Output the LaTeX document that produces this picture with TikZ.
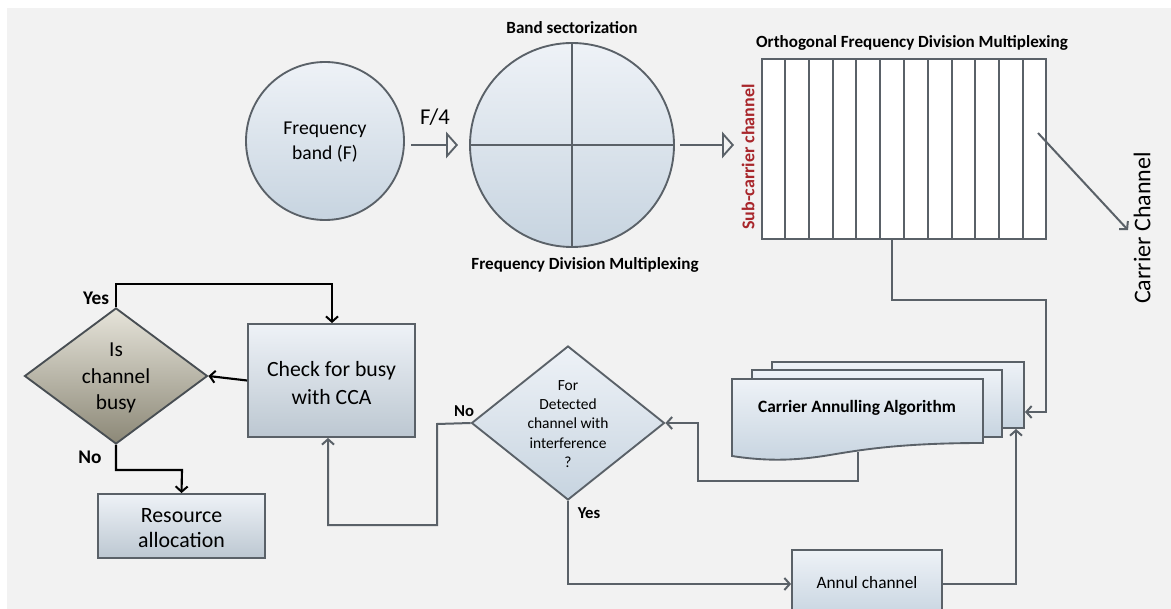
\documentclass[tikz,border=0pt]{standalone}
\usepackage{fontspec}
\setmainfont{Carlito}
\usetikzlibrary{arrows.meta,shapes.geometric,calc}
\definecolor{bgc}{HTML}{F2F2F2}
\definecolor{lnc}{HTML}{5A6168}
\definecolor{boxtop}{HTML}{EEF2F7}
\definecolor{boxbot}{HTML}{C7D4E0}
\definecolor{dtop}{HTML}{E6E4DA}
\definecolor{dbot}{HTML}{8C8877}
\definecolor{redtxt}{HTML}{A8262B}
\tikzset{
  blueshade/.style={top color=boxtop,bottom color=boxbot},
  boxnode/.style={draw=lnc,line width=1.4pt,blueshade,inner sep=0pt},
  conn/.style={draw=lnc,line width=1.5pt,-{Straight Barb[length=4pt,width=9pt,line width=1.5pt]}},
  blk/.style={draw=black,line width=1.6pt,-{Straight Barb[length=4pt,width=9pt,line width=1.5pt]}},
  hollow/.style={draw=lnc,line width=1.5pt,-{Triangle[open,length=9pt,width=20pt,line width=1.4pt]}},
  plain/.style={draw=lnc,line width=1.5pt},
  lbl/.style={font=\fontsize{12.8}{15}\selectfont\bfseries,inner sep=0pt},
  txt/.style={font=\fontsize{14.7}{19}\selectfont,align=center,inner sep=0pt},
  bigtxt/.style={font=\fontsize{16.3}{20.5}\selectfont,align=center,inner sep=0pt},
}
\begin{document}
\begin{tikzpicture}[x=0.75pt,y=-0.75pt]
\useasboundingbox (0,0) rectangle (1171,609);
\fill[white] (0,0) rectangle (1171,609);
\fill[bgc] (7,8) rectangle (1171,609);

% circles
\node[circle,draw=lnc,line width=1.4pt,blueshade,minimum size=118.5pt,inner sep=0pt] (fb) at (325,141) {};
\node[txt] (fbt) at (325,142) {Frequency\\band (F)};
\node[circle,draw=lnc,line width=1.4pt,blueshade,minimum size=153pt,inner sep=0pt] (bs) at (572,145) {};
\draw[plain] (bs.north) -- (bs.south);
\draw[plain] (bs.west) -- (bs.east);
\node[lbl] (bslbl) at (572,28) {Band sectorization};
\node[lbl] (fdm) at (585,265) {Frequency Division Multiplexing};

\coordinate (a1s) at (411,145);
\coordinate (a1e) at (458,145);
\draw[hollow] (a1s) -- (a1e);
\node[font=\fontsize{17}{19}\selectfont,inner sep=0pt] (f4) at (435,117) {F/4};
\coordinate (a2s) at (680,145);
\coordinate (a2e) at (734,145);
\draw[hollow] (a2s) -- (a2e);

% OFDM
\node[draw=lnc,line width=1.4pt,fill=white,minimum width=213pt,minimum height=135pt,inner sep=0pt] (ofdm) at (904,149) {};
\foreach \i in {1,...,11}{
  \draw[plain] ($(ofdm.north west)!\i/12!(ofdm.north east)$) -- ($(ofdm.south west)!\i/12!(ofdm.south east)$);
}
\node[lbl] (ofdmlbl) at (912,43) {Orthogonal Frequency Division Multiplexing};
\node[lbl,text=redtxt,rotate=90,font=\fontsize{13.5}{15}\selectfont\bfseries] (sub) at (748,157) {Sub-carrier channel};
\node[font=\fontsize{18}{21}\selectfont,rotate=90,inner sep=0pt] (cc) at (1142,228) {Carrier Channel};
\coordinate (ccs) at (1038,133);
\coordinate (cce) at (1128,230);
\draw[conn] (ccs) -- (cce);

% Carrier annulling algorithm (stacked documents)
\path[draw=lnc,line width=1.4pt,blueshade] (772,362) rectangle (1024,428);
\path[draw=lnc,line width=1.4pt,blueshade] (752,370) rectangle (1002,437);
\path[draw=lnc,line width=1.4pt,blueshade] (732,379) -- (983,379) -- (983,443)
   .. controls (900,443) and (860,450) .. (830,455)
   .. controls (800,460) and (770,462) .. (732,456) -- cycle;
\node[lbl,font=\fontsize{13}{15}\selectfont\bfseries] (caa) at (857,408) {Carrier Annulling Algorithm};
\coordinate (caain) at (1025,412);
\coordinate (caain2) at (1016,429);
\coordinate (caaout) at (858,452);

% OFDM -> CAA
\draw[conn] (ofdm.south) ++(-12,0) |- (1046,300) |- (caain);

% Diamond 2
\node[diamond,draw=lnc,line width=1.4pt,blueshade,minimum width=144.75pt,minimum height=115.5pt,inner sep=0pt] (d2) at (568,423) {};
\node[font=\fontsize{11.6}{14.5}\selectfont,align=center,inner sep=0pt] (d2t) at (568,424) {For\\Detected\\channel with\\interference\\?};
\draw[conn] (caaout) |- (698,481) |- (d2.east);
\node[lbl,font=\fontsize{12.5}{14}\selectfont\bfseries] (no2) at (464,411) {No};
\node[lbl,font=\fontsize{12.5}{14}\selectfont\bfseries] (yes2) at (589,513) {Yes};

% Annul channel
\node[boxnode,minimum width=112.5pt,minimum height=51pt] (annul) at (867,584) {};
\node[txt,font=\fontsize{13}{15}\selectfont] (annult) at (867,583) {Annul channel};
\draw[conn] (d2.south) |- (annul.west);
\draw[conn] (annul.east) -| (caain2);

% Check for busy
\node[boxnode,minimum width=125.25pt,minimum height=84.75pt,top color=boxtop,bottom color=boxbot!85!gray] (chk) at (331.5,380.5) {};
\node[bigtxt,font=\fontsize{16.3}{21}\selectfont] (chkt) at (331.5,383) {Check for busy\\with CCA};
\draw[conn] (d2.west) -- (437,424) |- (328,525) -- (chk.south -| 328,0);

% Diamond 1
\node[diamond,draw=lnc!80!black,line width=1.4pt,top color=dtop,bottom color=dbot,minimum width=137.25pt,minimum height=102pt,inner sep=0pt] (d1) at (116,376) {};
\node[bigtxt,font=\fontsize{16}{20}\selectfont] (d1t) at (116,378) {Is\\channel\\busy};
\draw[blk] (chk.west) -- (d1.east);
\draw[blk] (d1.north) |- (332,284) -- (chk.north -| 332,0);
\node[lbl,font=\fontsize{14.5}{16}\selectfont\bfseries] (yes1) at (96,298) {Yes};
\node[lbl,font=\fontsize{14.5}{16}\selectfont\bfseries] (no1) at (90,457) {No};

% Resource allocation
\node[boxnode,minimum width=125.25pt,minimum height=48pt,top color=boxtop,bottom color=boxbot!85!gray] (res) at (181.5,526) {};
\node[bigtxt,font=\fontsize{16.4}{19}\selectfont] (rest) at (181.5,528) {Resource\\allocation};
\draw[blk] (d1.south) |- (182,470) -- (res.north);
\end{tikzpicture}
\end{document}
